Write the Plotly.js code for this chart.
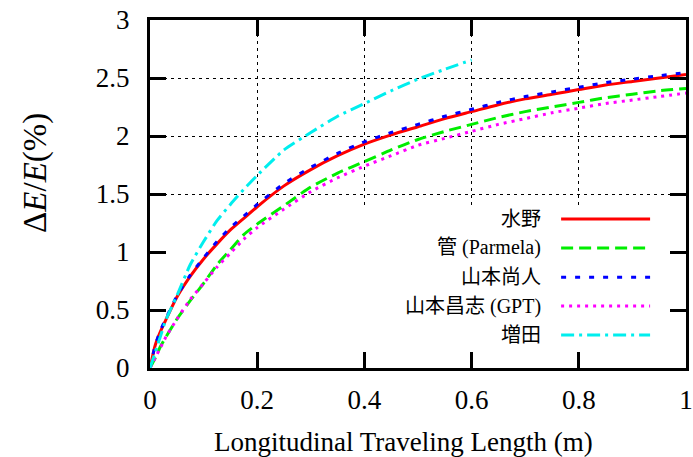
<!DOCTYPE html>
<html>
<head>
<meta charset="utf-8">
<script src="https://cdn.plot.ly/plotly-3.0.1.min.js"></script>
<style>html,body{margin:0;padding:0;background:#fff;}#chart{width:693px;height:457px;}</style>
</head>
<body>
<div id="chart"></div>
<script>
// x positions (m)
const xAll = [0, 0.01, 0.02, 0.03, 0.05, 0.075, 0.1, 0.125, 0.15, 0.175, 0.2, 0.25, 0.3, 0.35, 0.4, 0.45, 0.5, 0.55, 0.6, 0.65, 0.7, 0.75, 0.8, 0.85, 0.9, 0.95, 1.0];
const xMasuda = [0, 0.01, 0.02, 0.03, 0.05, 0.075, 0.1, 0.125, 0.15, 0.175, 0.2, 0.25, 0.3, 0.35, 0.4, 0.45, 0.5, 0.55, 0.6];

const yMizuno   = [0, 0.20, 0.32, 0.42, 0.61, 0.79, 0.94, 1.07, 1.19, 1.29, 1.39, 1.57, 1.71, 1.83, 1.93, 2.01, 2.08, 2.15, 2.21, 2.27, 2.32, 2.36, 2.40, 2.44, 2.47, 2.50, 2.53];
const yKan      = [0, 0.09, 0.19, 0.27, 0.42, 0.58, 0.73, 0.89, 1.02, 1.15, 1.24, 1.40, 1.56, 1.68, 1.78, 1.88, 1.97, 2.04, 2.10, 2.16, 2.21, 2.25, 2.29, 2.33, 2.36, 2.39, 2.41];
const yNaoto    = [0, 0.20, 0.33, 0.43, 0.62, 0.80, 0.95, 1.09, 1.21, 1.31, 1.41, 1.59, 1.73, 1.85, 1.95, 2.03, 2.10, 2.17, 2.23, 2.29, 2.34, 2.38, 2.42, 2.46, 2.49, 2.52, 2.545];
const yMasashi  = [0, 0.09, 0.18, 0.27, 0.42, 0.59, 0.73, 0.87, 0.99, 1.11, 1.21, 1.37, 1.52, 1.64, 1.74, 1.83, 1.92, 1.98, 2.04, 2.10, 2.15, 2.20, 2.24, 2.28, 2.31, 2.34, 2.37];
const yMasuda   = [0, 0.14, 0.28, 0.42, 0.62, 0.89, 1.09, 1.27, 1.41, 1.54, 1.66, 1.88, 2.03, 2.17, 2.28, 2.39, 2.49, 2.575, 2.655];

const names = ['水野', '管 (Parmela)', '山本尚人', '山本昌志 (GPT)', '増田'];
const xTicks = [0, 0.2, 0.4, 0.6, 0.8, 1];
const xTickText = ['0', '0.2', '0.4', '0.6', '0.8', '1'];
const yTicks = [0, 0.5, 1, 1.5, 2, 2.5, 3];
const yTickText = ['0', '0.5', '1', '1.5', '2', '2.5', '3'];
const xTitle = 'Longitudinal Traveling Length (m)';
const yTitle = 'Δ<i>E</i>/<i>E</i>(%)';

const colors = ['#ff0000', '#00ee00', '#0000ff', '#ff00ff', '#00eeee'];
const dashes = ['solid', '12px,6px', '5px,9px', '3px,5px', '13px,5px,3px,5px'];
const xs = [xAll, xAll, xAll, xAll, xMasuda];
const ys = [yMizuno, yKan, yNaoto, yMasashi, yMasuda];

const traces = ys.map((y, i) => ({
  x: xs[i], y: y, type: 'scatter', mode: 'lines', name: names[i],
  line: {color: colors[i], width: 3, dash: dashes[i], shape: 'spline', smoothing: 0.6},
  showlegend: false, hoverinfo: 'skip'
}));

const serif = '"Liberation Serif", "Times New Roman", serif';
const legendFont = '"Liberation Serif", "Noto Sans CJK JP", serif';

const shapes = [{
  type: 'rect', xref: 'x', yref: 'y', x0: 0, x1: 1, y0: 0, y1: 1.40,
  fillcolor: '#ffffff', line: {width: 0}, layer: 'between'
}];
const annotations = [
  {xref: 'paper', yref: 'paper', x: 0.4725, y: -0.214, xanchor: 'center', yanchor: 'middle',
   text: xTitle, showarrow: false, font: {family: serif, size: 27, color: '#000'}},
  {xref: 'paper', yref: 'paper', x: -0.215, y: 0.56, xanchor: 'center', yanchor: 'middle',
   textangle: -90, text: yTitle, showarrow: false, font: {family: serif, size: 33, color: '#000'}}
];
const rowY = [0.428, 0.345, 0.261, 0.178, 0.095];
names.forEach((n, i) => {
  shapes.push({
    type: 'line', xref: 'paper', yref: 'paper', x0: 0.767, x1: 0.933, y0: rowY[i], y1: rowY[i],
    line: {color: colors[i], width: 3, dash: dashes[i]}, layer: 'above'
  });
  annotations.push({
    xref: 'paper', yref: 'paper', x: 0.733, y: rowY[i], xanchor: 'right', yanchor: 'middle',
    text: n, showarrow: false, font: {family: legendFont, size: 20, color: '#000'}
  });
});

const layout = {
  width: 693, height: 457,
  margin: {l: 150, r: 7, t: 20, b: 89},
  paper_bgcolor: '#fff', plot_bgcolor: '#fff',
  showlegend: false,
  font: {family: serif, size: 27, color: '#000'},
  xaxis: {
    range: [0, 1], tickvals: xTicks, ticktext: xTickText,
    ticks: 'inside', ticklen: 16, tickwidth: 3, tickcolor: '#000',
    showline: true, linewidth: 3, linecolor: '#000', mirror: 'ticks',
    showgrid: true, gridcolor: '#000', gridwidth: 1, griddash: '3px,4px',
    zeroline: false, ticklabelstandoff: 6,
    tickfont: {family: serif, size: 27, color: '#000'}
  },
  yaxis: {
    range: [0, 3], tickvals: yTicks, ticktext: yTickText,
    ticks: 'inside', ticklen: 16, tickwidth: 3, tickcolor: '#000',
    showline: true, linewidth: 3, linecolor: '#000', mirror: 'ticks',
    showgrid: true, gridcolor: '#000', gridwidth: 1, griddash: '3px,4px',
    zeroline: false, ticklabelstandoff: 12,
    tickfont: {family: serif, size: 27, color: '#000'}
  },
  shapes: shapes,
  annotations: annotations
};

Plotly.newPlot('chart', traces, layout, {staticPlot: true, displayModeBar: false});
</script>
</body>
</html>
